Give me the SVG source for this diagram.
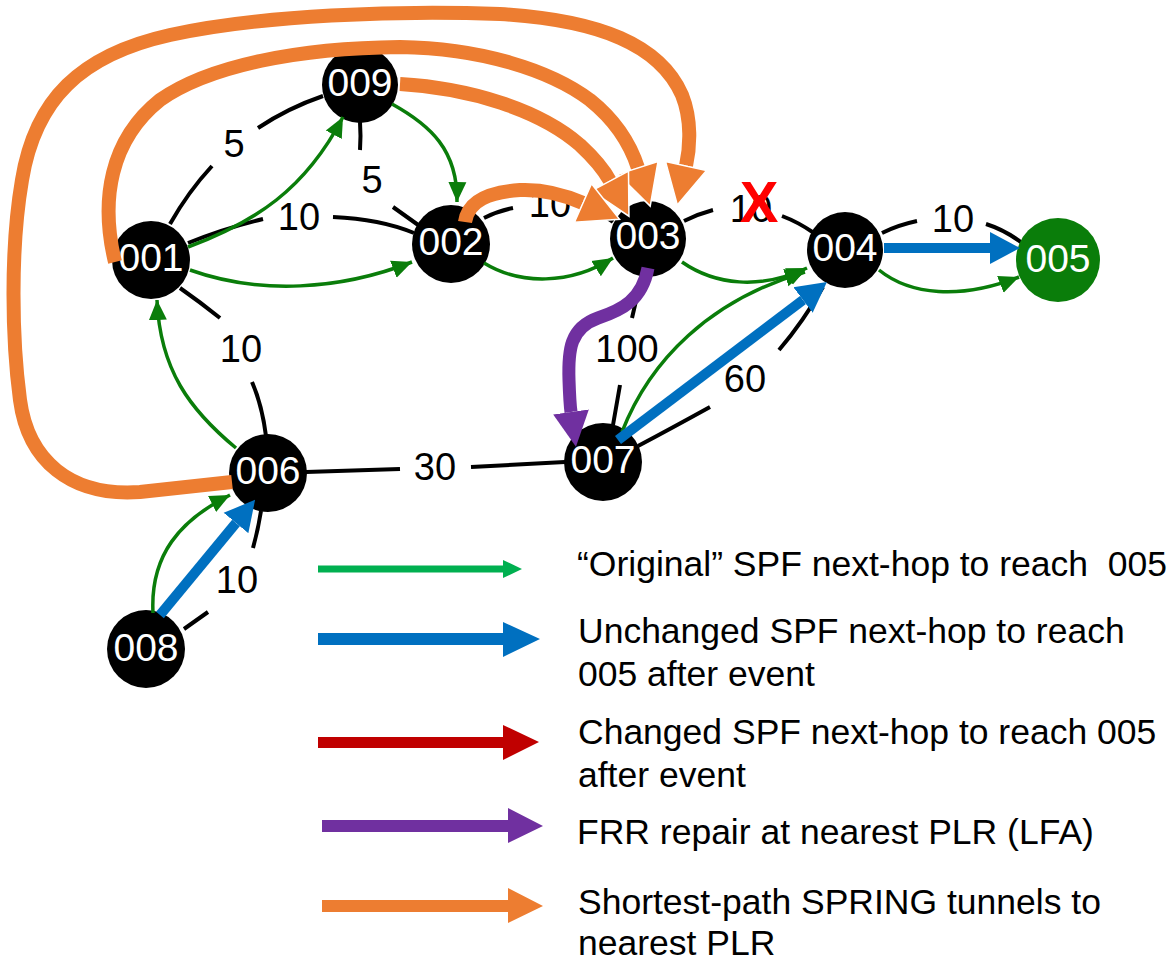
<svg xmlns="http://www.w3.org/2000/svg" width="1171" height="963" viewBox="0 0 1171 963">
  <style>
    .link { fill: none; stroke: #000; stroke-width: 4; }
    .wt { font-family: "Liberation Sans", Arial, sans-serif; font-size: 38px; fill: #000; text-anchor: middle; }
    .node circle { fill: #000; }
    .node text { font-family: "Liberation Sans", Arial, sans-serif; font-size: 39px; fill: #fff; text-anchor: middle; }
    .spf { fill: none; stroke: #0a7d0a; stroke-width: 3.5; marker-end: url(#head-green); }
    .keep { fill: none; stroke: #0070c0; stroke-width: 10; marker-end: url(#head-blue); }
    .lfa { fill: none; stroke: #7030a0; stroke-width: 13; marker-end: url(#head-purple); }
    .tunnel { fill: none; stroke: #ed7d31; stroke-width: 14; marker-end: url(#head-orange); }
    .lg { font-family: "Liberation Sans", Arial, sans-serif; font-size: 35.5px; fill: #000; white-space: pre; }
  </style>
  <defs>
    <marker id="head-green" markerUnits="userSpaceOnUse" viewBox="0 -10 20 20" markerWidth="20" markerHeight="20" refX="20" refY="0" orient="auto">
      <path d="M0,-9 L20,0 L0,9 z" fill="#0a7d0a"/>
    </marker>
    <marker id="head-blue" markerUnits="userSpaceOnUse" viewBox="0 -17 32 34" markerWidth="32" markerHeight="34" refX="0" refY="0" orient="auto">
      <path d="M0,-16 L30,0 L0,16 z" fill="#0070c0"/>
    </marker>
    <marker id="head-purple" markerUnits="userSpaceOnUse" viewBox="0 -19 37 38" markerWidth="37" markerHeight="38" refX="0" refY="0" orient="auto">
      <path d="M0,-18 L35,0 L0,18 z" fill="#7030a0"/>
    </marker>
    <marker id="head-orange" markerUnits="userSpaceOnUse" viewBox="-1 -23 44 46" markerWidth="44" markerHeight="46" refX="0" refY="0" orient="auto">
      <path d="M0,-21 L40,0 L0,21 z" fill="#ed7d31" stroke="#fff" stroke-width="1.5" stroke-linejoin="miter"/>
    </marker>
  </defs>

  <rect width="1171" height="963" fill="#fff"/>

  <!-- IGP links with their metrics -->
  <g id="links">
    <path class="link" d="M170,224 Q188,192 212,166 M258,128 Q288,108 323,96"/>
    <path class="link" d="M360,122 Q361,136 360,150 M393,207 L421,227"/>
    <path class="link" d="M188,243 Q225,228 263,219 M333,217 Q380,219 414,233"/>
    <path class="link" d="M484,218 Q498,211 513,208 M587,208 Q600,212 613,222"/>
    <path class="link" d="M684,221 Q698,214 713,210 M782,216 Q798,222 814,233"/>
    <path class="link" d="M882,233 Q898,225 917,221 M986,224 Q1005,230 1022,243"/>
    <path class="link" d="M180,288 Q200,302 220,318 M252,382 Q262,405 266,436"/>
    <path class="link" d="M642,275 L632,318 M620,385 L613,425"/>
    <path class="link" d="M823,287 Q803,322 779,350 M710,407 Q672,428 638,446"/>
    <path class="link" d="M306,472 L400,469 M471,467 L565,462"/>
    <path class="link" d="M261,511 Q258,530 253,548 M208,612 L184,629"/>
    <text class="wt" x="234" y="157">5</text>
    <text class="wt" x="372" y="193">5</text>
    <text class="wt" x="299" y="230">10</text>
    <text class="wt" x="550" y="217">10</text>
    <text class="wt" x="751" y="222">10</text>
    <text class="wt" x="953" y="232">10</text>
    <text class="wt" x="241" y="362">10</text>
    <text class="wt" x="627" y="362">100</text>
    <text class="wt" x="745" y="392">60</text>
    <text class="wt" x="435" y="480">30</text>
    <text class="wt" x="237" y="593">10</text>
  </g>

  <!-- routers -->
  <g id="n001" class="node"><circle cx="151" cy="260" r="39"/><text x="151" y="271">001</text></g>
  <g id="n002" class="node"><circle cx="451" cy="244" r="39"/><text x="451" y="255">002</text></g>
  <g id="n003" class="node"><circle cx="648" cy="239" r="38"/><text x="648" y="249">003</text></g>
  <g id="n004" class="node"><circle cx="845" cy="250" r="38"/><text x="845" y="261">004</text></g>
  <g id="n005" class="node"><circle cx="1058" cy="260" r="42" style="fill:#0a7d0a"/><text x="1058" y="272">005</text></g>
  <g id="n006" class="node"><circle cx="268" cy="473" r="39"/><text x="268" y="484">006</text></g>
  <g id="n007" class="node"><circle cx="603" cy="462" r="39"/><text x="603" y="473">007</text></g>
  <g id="n008" class="node"><circle cx="146" cy="649" r="39"/><text x="146" y="661">008</text></g>
  <g id="n009" class="node"><circle cx="360" cy="85" r="38"/><text x="360" y="96">009</text></g>

  <!-- forwarding paths -->
  <g id="connectors">
    <!-- original SPF next-hops towards 005 -->
    <path class="spf" d="M188,247 C255,222 305,190 343,117"/>
    <path class="spf" d="M392,104 C430,125 458,150 457,202"/>
    <path class="spf" d="M190,270 C260,295 340,290 412,262"/>
    <path class="spf" d="M484,263 C520,285 570,285 613,258"/>
    <path class="spf" d="M682,262 C715,285 760,290 807,268"/>
    <path class="spf" d="M879,270 C910,295 960,300 1019,277"/>
    <path class="spf" d="M236,448 C190,410 160,370 157,300"/>
    <path class="spf" d="M622,432 C650,360 710,300 805,272"/>
    <path class="spf" d="M153,613 C150,555 180,520 230,495"/>

    <!-- unchanged next-hops after the failure -->
    <path class="keep" d="M884,248 L990,248"/>
    <path class="keep" d="M618,440 L803,300"/>
    <path class="keep" d="M160,615 L236,523"/>

    <!-- LFA repair at 003 -->
    <path class="lfa" d="M648,268 C642,300 622,310 598,318 C570,328 568,350 569,380 C569.5,395 570,405 571,412"/>

    <!-- SPRING tunnels to the PLR -->
    <path class="tunnel" d="M232,482 L140,492 C70,497 28,460 20,400 C12,340 10,250 22,180 C35,100 80,55 170,35 C260,15 400,10 500,14 C600,20 660,45 682,95 C692,120 690,148 686,166"/>
    <path class="tunnel" d="M115,262 C100,200 110,140 160,100 C210,65 300,48 400,47 C480,48 550,70 590,100 C615,120 630,143 638,168"/>
    <path class="tunnel" d="M400,84 C470,88 540,110 580,145 C593,157 603,168 610,181"/>
    <path class="tunnel" d="M465,222 C468,200 490,192 520,190 C545,189 565,195 583,203"/>
  </g>

  <!-- failed link marker -->
  <text x="759" y="222" font-family="Liberation Sans, Arial, sans-serif" font-size="58" font-weight="bold" fill="#ff0000" text-anchor="middle">X</text>

  <!-- legend -->
  <g id="legend">
    <path d="M318,565.5 L503,565.5 L503,560 L522,569 L503,578 L503,572.5 L318,572.5 z" fill="#00b050"/>
    <path d="M318,633 L503,633 L503,622 L540,639 L503,657 L503,645 L318,645 z" fill="#0070c0"/>
    <path d="M318,737 L503,737 L503,725 L539,742 L503,760 L503,748 L318,748 z" fill="#c00000"/>
    <path d="M322,820 L508,820 L508,808 L543,826 L508,843 L508,832 L322,832 z" fill="#7030a0"/>
    <path d="M322,900 L508,900 L508,888 L543,906 L508,923 L508,912 L322,912 z" fill="#ed7d31"/>
    <text class="lg" x="577" y="576" xml:space="preserve">“Original” SPF next-hop to reach  005</text>
    <text class="lg" x="578" y="643">Unchanged SPF next-hop to reach</text>
    <text class="lg" x="578" y="686">005 after event</text>
    <text class="lg" x="578" y="744">Changed SPF next-hop to reach 005</text>
    <text class="lg" x="578" y="787">after event</text>
    <text class="lg" x="577" y="844">FRR repair at nearest PLR (LFA)</text>
    <text class="lg" x="578" y="914">Shortest-path SPRING tunnels to</text>
    <text class="lg" x="578" y="955">nearest PLR</text>
  </g>
</svg>
